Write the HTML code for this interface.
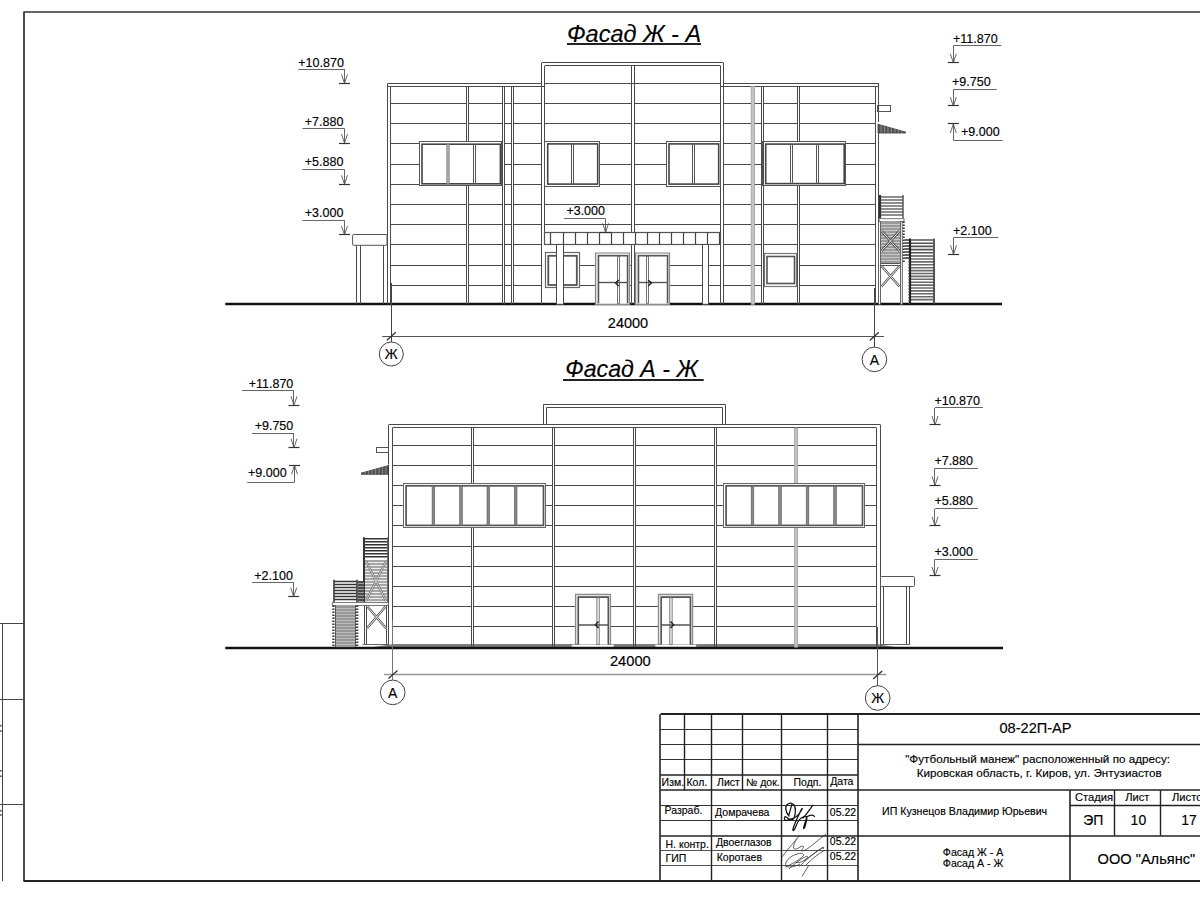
<!DOCTYPE html>
<html><head><meta charset="utf-8"><style>
html,body{margin:0;padding:0;background:#fff;width:1200px;height:900px;overflow:hidden}
svg{display:block}
text{font-family:"Liberation Sans",sans-serif;stroke:#000;stroke-width:0.15px}
</style></head><body>
<svg width="1200" height="900" viewBox="0 0 1200 900">
<rect x="0" y="0" width="1200" height="900" fill="#fff"/>
<line x1="225.3" y1="304" x2="1002" y2="304" stroke="#111" stroke-width="2.4"/>
<line x1="387.5" y1="83.5" x2="542" y2="83.5" stroke="#4a4a4a" stroke-width="1"/>
<line x1="545" y1="83.5" x2="720.5" y2="83.5" stroke="#4a4a4a" stroke-width="1"/>
<line x1="723.25" y1="83.5" x2="878.8" y2="83.5" stroke="#4a4a4a" stroke-width="1"/>
<line x1="387.5" y1="86.5" x2="545" y2="86.5" stroke="#4a4a4a" stroke-width="1"/>
<line x1="720.5" y1="86.5" x2="878.8" y2="86.5" stroke="#4a4a4a" stroke-width="1"/>
<line x1="542" y1="62.5" x2="723.25" y2="62.5" stroke="#4a4a4a" stroke-width="1"/>
<line x1="545" y1="65.5" x2="720.5" y2="65.5" stroke="#4a4a4a" stroke-width="1"/>
<line x1="541.5" y1="62.7" x2="541.5" y2="304.3" stroke="#4a4a4a" stroke-width="1"/>
<line x1="723.5" y1="62.7" x2="723.5" y2="304.3" stroke="#4a4a4a" stroke-width="1"/>
<line x1="544.5" y1="65.7" x2="544.5" y2="232.5" stroke="#4a4a4a" stroke-width="1"/>
<line x1="720.5" y1="65.7" x2="720.5" y2="304.3" stroke="#4a4a4a" stroke-width="1"/>
<line x1="387.5" y1="83.6" x2="387.5" y2="304.3" stroke="#4a4a4a" stroke-width="1"/>
<line x1="390.5" y1="86.5" x2="390.5" y2="304.3" stroke="#4a4a4a" stroke-width="1"/>
<line x1="878.5" y1="83.6" x2="878.5" y2="304.3" stroke="#4a4a4a" stroke-width="1"/>
<line x1="875.5" y1="86.5" x2="875.5" y2="304.3" stroke="#4a4a4a" stroke-width="1"/>
<line x1="466.5" y1="86.5" x2="466.5" y2="141.8" stroke="#4a4a4a" stroke-width="1"/>
<line x1="468.5" y1="86.5" x2="468.5" y2="141.8" stroke="#4a4a4a" stroke-width="1"/>
<line x1="466.5" y1="186" x2="466.5" y2="304.3" stroke="#4a4a4a" stroke-width="1"/>
<line x1="468.5" y1="186" x2="468.5" y2="304.3" stroke="#4a4a4a" stroke-width="1"/>
<line x1="502.5" y1="86.5" x2="502.5" y2="304.3" stroke="#4a4a4a" stroke-width="1"/>
<line x1="504.5" y1="86.5" x2="504.5" y2="304.3" stroke="#4a4a4a" stroke-width="1"/>
<line x1="511.5" y1="86.5" x2="511.5" y2="304.3" stroke="#4a4a4a" stroke-width="1"/>
<line x1="513.5" y1="86.5" x2="513.5" y2="304.3" stroke="#4a4a4a" stroke-width="1"/>
<line x1="631.5" y1="65.7" x2="631.5" y2="232.5" stroke="#4a4a4a" stroke-width="1"/>
<line x1="634.5" y1="65.7" x2="634.5" y2="232.5" stroke="#4a4a4a" stroke-width="1"/>
<line x1="631.5" y1="244.5" x2="631.5" y2="304.3" stroke="#4a4a4a" stroke-width="1"/>
<line x1="634.5" y1="244.5" x2="634.5" y2="304.3" stroke="#4a4a4a" stroke-width="1"/>
<rect x="751.2" y="86.5" width="3.4" height="217.8" fill="#c4c4c4" stroke="#a0a0a0" stroke-width="0.8"/>
<line x1="761.5" y1="86.5" x2="761.5" y2="304.3" stroke="#4a4a4a" stroke-width="1"/>
<line x1="763.5" y1="86.5" x2="763.5" y2="304.3" stroke="#4a4a4a" stroke-width="1"/>
<line x1="797.5" y1="86.5" x2="797.5" y2="141.7" stroke="#4a4a4a" stroke-width="1"/>
<line x1="799.5" y1="86.5" x2="799.5" y2="141.7" stroke="#4a4a4a" stroke-width="1"/>
<line x1="797.5" y1="185.8" x2="797.5" y2="304.3" stroke="#4a4a4a" stroke-width="1"/>
<line x1="799.5" y1="185.8" x2="799.5" y2="304.3" stroke="#4a4a4a" stroke-width="1"/>
<line x1="390.5" y1="103.5" x2="466.25" y2="103.5" stroke="#4a4a4a" stroke-width="1"/>
<line x1="468.25" y1="103.5" x2="503" y2="103.5" stroke="#4a4a4a" stroke-width="1"/>
<line x1="505" y1="103.5" x2="511.5" y2="103.5" stroke="#4a4a4a" stroke-width="1"/>
<line x1="513.5" y1="103.5" x2="542" y2="103.5" stroke="#4a4a4a" stroke-width="1"/>
<line x1="545" y1="103.5" x2="631.3" y2="103.5" stroke="#4a4a4a" stroke-width="1"/>
<line x1="634.3" y1="103.5" x2="720.5" y2="103.5" stroke="#4a4a4a" stroke-width="1"/>
<line x1="723.25" y1="103.5" x2="751" y2="103.5" stroke="#4a4a4a" stroke-width="1"/>
<line x1="754.8" y1="103.5" x2="761.25" y2="103.5" stroke="#4a4a4a" stroke-width="1"/>
<line x1="763.25" y1="103.5" x2="797.2" y2="103.5" stroke="#4a4a4a" stroke-width="1"/>
<line x1="799.5" y1="103.5" x2="875.3" y2="103.5" stroke="#4a4a4a" stroke-width="1"/>
<line x1="390.5" y1="123.5" x2="466.25" y2="123.5" stroke="#4a4a4a" stroke-width="1"/>
<line x1="468.25" y1="123.5" x2="503" y2="123.5" stroke="#4a4a4a" stroke-width="1"/>
<line x1="505" y1="123.5" x2="511.5" y2="123.5" stroke="#4a4a4a" stroke-width="1"/>
<line x1="513.5" y1="123.5" x2="542" y2="123.5" stroke="#4a4a4a" stroke-width="1"/>
<line x1="545" y1="123.5" x2="631.3" y2="123.5" stroke="#4a4a4a" stroke-width="1"/>
<line x1="634.3" y1="123.5" x2="720.5" y2="123.5" stroke="#4a4a4a" stroke-width="1"/>
<line x1="723.25" y1="123.5" x2="751" y2="123.5" stroke="#4a4a4a" stroke-width="1"/>
<line x1="754.8" y1="123.5" x2="761.25" y2="123.5" stroke="#4a4a4a" stroke-width="1"/>
<line x1="763.25" y1="123.5" x2="797.2" y2="123.5" stroke="#4a4a4a" stroke-width="1"/>
<line x1="799.5" y1="123.5" x2="875.3" y2="123.5" stroke="#4a4a4a" stroke-width="1"/>
<line x1="390.5" y1="143.5" x2="419.3" y2="143.5" stroke="#4a4a4a" stroke-width="1"/>
<line x1="502" y1="143.5" x2="503" y2="143.5" stroke="#4a4a4a" stroke-width="1"/>
<line x1="505" y1="143.5" x2="511.5" y2="143.5" stroke="#4a4a4a" stroke-width="1"/>
<line x1="513.5" y1="143.5" x2="542" y2="143.5" stroke="#4a4a4a" stroke-width="1"/>
<line x1="599.3" y1="143.5" x2="631.3" y2="143.5" stroke="#4a4a4a" stroke-width="1"/>
<line x1="634.3" y1="143.5" x2="666.3" y2="143.5" stroke="#4a4a4a" stroke-width="1"/>
<line x1="720.3" y1="143.5" x2="720.5" y2="143.5" stroke="#4a4a4a" stroke-width="1"/>
<line x1="723.25" y1="143.5" x2="751" y2="143.5" stroke="#4a4a4a" stroke-width="1"/>
<line x1="754.8" y1="143.5" x2="761.25" y2="143.5" stroke="#4a4a4a" stroke-width="1"/>
<line x1="845.8" y1="143.5" x2="875.3" y2="143.5" stroke="#4a4a4a" stroke-width="1"/>
<line x1="390.5" y1="164.5" x2="419.3" y2="164.5" stroke="#4a4a4a" stroke-width="1"/>
<line x1="502" y1="164.5" x2="503" y2="164.5" stroke="#4a4a4a" stroke-width="1"/>
<line x1="505" y1="164.5" x2="511.5" y2="164.5" stroke="#4a4a4a" stroke-width="1"/>
<line x1="513.5" y1="164.5" x2="542" y2="164.5" stroke="#4a4a4a" stroke-width="1"/>
<line x1="599.3" y1="164.5" x2="631.3" y2="164.5" stroke="#4a4a4a" stroke-width="1"/>
<line x1="634.3" y1="164.5" x2="666.3" y2="164.5" stroke="#4a4a4a" stroke-width="1"/>
<line x1="720.3" y1="164.5" x2="720.5" y2="164.5" stroke="#4a4a4a" stroke-width="1"/>
<line x1="723.25" y1="164.5" x2="751" y2="164.5" stroke="#4a4a4a" stroke-width="1"/>
<line x1="754.8" y1="164.5" x2="761.25" y2="164.5" stroke="#4a4a4a" stroke-width="1"/>
<line x1="845.8" y1="164.5" x2="875.3" y2="164.5" stroke="#4a4a4a" stroke-width="1"/>
<line x1="390.5" y1="184.5" x2="419.3" y2="184.5" stroke="#4a4a4a" stroke-width="1"/>
<line x1="502" y1="184.5" x2="503" y2="184.5" stroke="#4a4a4a" stroke-width="1"/>
<line x1="505" y1="184.5" x2="511.5" y2="184.5" stroke="#4a4a4a" stroke-width="1"/>
<line x1="513.5" y1="184.5" x2="542" y2="184.5" stroke="#4a4a4a" stroke-width="1"/>
<line x1="599.3" y1="184.5" x2="631.3" y2="184.5" stroke="#4a4a4a" stroke-width="1"/>
<line x1="634.3" y1="184.5" x2="666.3" y2="184.5" stroke="#4a4a4a" stroke-width="1"/>
<line x1="720.3" y1="184.5" x2="720.5" y2="184.5" stroke="#4a4a4a" stroke-width="1"/>
<line x1="723.25" y1="184.5" x2="751" y2="184.5" stroke="#4a4a4a" stroke-width="1"/>
<line x1="754.8" y1="184.5" x2="761.25" y2="184.5" stroke="#4a4a4a" stroke-width="1"/>
<line x1="845.8" y1="184.5" x2="875.3" y2="184.5" stroke="#4a4a4a" stroke-width="1"/>
<line x1="390.5" y1="204.5" x2="466.25" y2="204.5" stroke="#4a4a4a" stroke-width="1"/>
<line x1="468.25" y1="204.5" x2="503" y2="204.5" stroke="#4a4a4a" stroke-width="1"/>
<line x1="505" y1="204.5" x2="511.5" y2="204.5" stroke="#4a4a4a" stroke-width="1"/>
<line x1="513.5" y1="204.5" x2="542" y2="204.5" stroke="#4a4a4a" stroke-width="1"/>
<line x1="545" y1="204.5" x2="631.3" y2="204.5" stroke="#4a4a4a" stroke-width="1"/>
<line x1="634.3" y1="204.5" x2="720.5" y2="204.5" stroke="#4a4a4a" stroke-width="1"/>
<line x1="723.25" y1="204.5" x2="751" y2="204.5" stroke="#4a4a4a" stroke-width="1"/>
<line x1="754.8" y1="204.5" x2="761.25" y2="204.5" stroke="#4a4a4a" stroke-width="1"/>
<line x1="763.25" y1="204.5" x2="797.2" y2="204.5" stroke="#4a4a4a" stroke-width="1"/>
<line x1="799.5" y1="204.5" x2="875.3" y2="204.5" stroke="#4a4a4a" stroke-width="1"/>
<line x1="390.5" y1="224.5" x2="466.25" y2="224.5" stroke="#4a4a4a" stroke-width="1"/>
<line x1="468.25" y1="224.5" x2="503" y2="224.5" stroke="#4a4a4a" stroke-width="1"/>
<line x1="505" y1="224.5" x2="511.5" y2="224.5" stroke="#4a4a4a" stroke-width="1"/>
<line x1="513.5" y1="224.5" x2="542" y2="224.5" stroke="#4a4a4a" stroke-width="1"/>
<line x1="545" y1="224.5" x2="631.3" y2="224.5" stroke="#4a4a4a" stroke-width="1"/>
<line x1="634.3" y1="224.5" x2="720.5" y2="224.5" stroke="#4a4a4a" stroke-width="1"/>
<line x1="723.25" y1="224.5" x2="751" y2="224.5" stroke="#4a4a4a" stroke-width="1"/>
<line x1="754.8" y1="224.5" x2="761.25" y2="224.5" stroke="#4a4a4a" stroke-width="1"/>
<line x1="763.25" y1="224.5" x2="797.2" y2="224.5" stroke="#4a4a4a" stroke-width="1"/>
<line x1="799.5" y1="224.5" x2="875.3" y2="224.5" stroke="#4a4a4a" stroke-width="1"/>
<line x1="390.5" y1="244.5" x2="466.25" y2="244.5" stroke="#4a4a4a" stroke-width="1"/>
<line x1="468.25" y1="244.5" x2="503" y2="244.5" stroke="#4a4a4a" stroke-width="1"/>
<line x1="505" y1="244.5" x2="511.5" y2="244.5" stroke="#4a4a4a" stroke-width="1"/>
<line x1="513.5" y1="244.5" x2="542" y2="244.5" stroke="#4a4a4a" stroke-width="1"/>
<line x1="723.25" y1="244.5" x2="751" y2="244.5" stroke="#4a4a4a" stroke-width="1"/>
<line x1="754.8" y1="244.5" x2="761.25" y2="244.5" stroke="#4a4a4a" stroke-width="1"/>
<line x1="763.25" y1="244.5" x2="797.2" y2="244.5" stroke="#4a4a4a" stroke-width="1"/>
<line x1="799.5" y1="244.5" x2="875.3" y2="244.5" stroke="#4a4a4a" stroke-width="1"/>
<line x1="390.5" y1="265.5" x2="466.25" y2="265.5" stroke="#4a4a4a" stroke-width="1"/>
<line x1="468.25" y1="265.5" x2="503" y2="265.5" stroke="#4a4a4a" stroke-width="1"/>
<line x1="505" y1="265.5" x2="511.5" y2="265.5" stroke="#4a4a4a" stroke-width="1"/>
<line x1="513.5" y1="265.5" x2="542" y2="265.5" stroke="#4a4a4a" stroke-width="1"/>
<line x1="579.2" y1="265.5" x2="595.5" y2="265.5" stroke="#4a4a4a" stroke-width="1"/>
<line x1="629.5" y1="265.5" x2="631.3" y2="265.5" stroke="#4a4a4a" stroke-width="1"/>
<line x1="634.3" y1="265.5" x2="635.5" y2="265.5" stroke="#4a4a4a" stroke-width="1"/>
<line x1="669.5" y1="265.5" x2="702.5" y2="265.5" stroke="#4a4a4a" stroke-width="1"/>
<line x1="708.5" y1="265.5" x2="720.5" y2="265.5" stroke="#4a4a4a" stroke-width="1"/>
<line x1="723.25" y1="265.5" x2="751" y2="265.5" stroke="#4a4a4a" stroke-width="1"/>
<line x1="754.8" y1="265.5" x2="761.25" y2="265.5" stroke="#4a4a4a" stroke-width="1"/>
<line x1="763.25" y1="265.5" x2="764.25" y2="265.5" stroke="#4a4a4a" stroke-width="1"/>
<line x1="797" y1="265.5" x2="797.2" y2="265.5" stroke="#4a4a4a" stroke-width="1"/>
<line x1="799.5" y1="265.5" x2="875.3" y2="265.5" stroke="#4a4a4a" stroke-width="1"/>
<line x1="390.5" y1="285.5" x2="466.25" y2="285.5" stroke="#4a4a4a" stroke-width="1"/>
<line x1="468.25" y1="285.5" x2="503" y2="285.5" stroke="#4a4a4a" stroke-width="1"/>
<line x1="505" y1="285.5" x2="511.5" y2="285.5" stroke="#4a4a4a" stroke-width="1"/>
<line x1="513.5" y1="285.5" x2="542" y2="285.5" stroke="#4a4a4a" stroke-width="1"/>
<line x1="579.2" y1="285.5" x2="595.5" y2="285.5" stroke="#4a4a4a" stroke-width="1"/>
<line x1="629.5" y1="285.5" x2="631.3" y2="285.5" stroke="#4a4a4a" stroke-width="1"/>
<line x1="634.3" y1="285.5" x2="635.5" y2="285.5" stroke="#4a4a4a" stroke-width="1"/>
<line x1="669.5" y1="285.5" x2="702.5" y2="285.5" stroke="#4a4a4a" stroke-width="1"/>
<line x1="708.5" y1="285.5" x2="720.5" y2="285.5" stroke="#4a4a4a" stroke-width="1"/>
<line x1="723.25" y1="285.5" x2="751" y2="285.5" stroke="#4a4a4a" stroke-width="1"/>
<line x1="754.8" y1="285.5" x2="761.25" y2="285.5" stroke="#4a4a4a" stroke-width="1"/>
<line x1="763.25" y1="285.5" x2="764.25" y2="285.5" stroke="#4a4a4a" stroke-width="1"/>
<line x1="797" y1="285.5" x2="797.2" y2="285.5" stroke="#4a4a4a" stroke-width="1"/>
<line x1="799.5" y1="285.5" x2="875.3" y2="285.5" stroke="#4a4a4a" stroke-width="1"/>
<rect x="419.5" y="141.5" width="82.0" height="44.0" fill="none" stroke="#555" stroke-width="1.0"/>
<rect x="422.0" y="144.20000000000002" width="78.39999999999999" height="39.59999999999999" fill="none" stroke="#444" stroke-width="1.6"/>
<rect x="446.8" y="144.20000000000002" width="2.4" height="39.59999999999999" fill="#aaa" stroke="#777" stroke-width="0.6"/>
<line x1="473.5" y1="144.20000000000002" x2="473.5" y2="183.8" stroke="#555" stroke-width="1.0"/>
<line x1="475.5" y1="144.20000000000002" x2="475.5" y2="183.8" stroke="#555" stroke-width="1.0"/>
<rect x="544.5" y="141.5" width="55.0" height="45.0" fill="none" stroke="#555" stroke-width="1.0"/>
<rect x="547.7" y="143.9" width="49.99999999999996" height="40.20000000000001" fill="none" stroke="#444" stroke-width="1.6"/>
<line x1="571.5" y1="143.9" x2="571.5" y2="184.10000000000002" stroke="#555" stroke-width="1.0"/>
<line x1="573.5" y1="143.9" x2="573.5" y2="184.10000000000002" stroke="#555" stroke-width="1.0"/>
<rect x="666.5" y="141.5" width="54.0" height="45.0" fill="none" stroke="#555" stroke-width="1.0"/>
<rect x="669.0" y="143.9" width="49.7" height="40.20000000000001" fill="none" stroke="#444" stroke-width="1.6"/>
<line x1="692.5" y1="143.9" x2="692.5" y2="184.10000000000002" stroke="#555" stroke-width="1.0"/>
<line x1="694.5" y1="143.9" x2="694.5" y2="184.10000000000002" stroke="#555" stroke-width="1.0"/>
<rect x="762.5" y="141.5" width="83.0" height="44.0" fill="none" stroke="#555" stroke-width="1.0"/>
<rect x="765.7" y="144.1" width="78.49999999999996" height="39.50000000000002" fill="none" stroke="#444" stroke-width="1.6"/>
<line x1="790.5" y1="144.1" x2="790.5" y2="183.60000000000002" stroke="#555" stroke-width="1.0"/>
<line x1="792.5" y1="144.1" x2="792.5" y2="183.60000000000002" stroke="#555" stroke-width="1.0"/>
<line x1="816.5" y1="144.1" x2="816.5" y2="183.60000000000002" stroke="#555" stroke-width="1.0"/>
<line x1="818.5" y1="144.1" x2="818.5" y2="183.60000000000002" stroke="#555" stroke-width="1.0"/>
<rect x="544.5" y="232.5" width="176.0" height="12.0" fill="none" stroke="#555" stroke-width="1.2"/>
<line x1="550.5" y1="232.5" x2="550.5" y2="244.5" stroke="#444" stroke-width="1.2"/>
<line x1="563.5" y1="232.5" x2="563.5" y2="244.5" stroke="#444" stroke-width="1.2"/>
<line x1="575.5" y1="232.5" x2="575.5" y2="244.5" stroke="#444" stroke-width="1.2"/>
<line x1="587.5" y1="232.5" x2="587.5" y2="244.5" stroke="#444" stroke-width="1.2"/>
<line x1="599.5" y1="232.5" x2="599.5" y2="244.5" stroke="#444" stroke-width="1.2"/>
<line x1="611.5" y1="232.5" x2="611.5" y2="244.5" stroke="#444" stroke-width="1.2"/>
<line x1="623.5" y1="232.5" x2="623.5" y2="244.5" stroke="#444" stroke-width="1.2"/>
<line x1="635.5" y1="232.5" x2="635.5" y2="244.5" stroke="#444" stroke-width="1.2"/>
<line x1="647.5" y1="232.5" x2="647.5" y2="244.5" stroke="#444" stroke-width="1.2"/>
<line x1="659.5" y1="232.5" x2="659.5" y2="244.5" stroke="#444" stroke-width="1.2"/>
<line x1="671.5" y1="232.5" x2="671.5" y2="244.5" stroke="#444" stroke-width="1.2"/>
<line x1="683.5" y1="232.5" x2="683.5" y2="244.5" stroke="#444" stroke-width="1.2"/>
<line x1="695.5" y1="232.5" x2="695.5" y2="244.5" stroke="#444" stroke-width="1.2"/>
<line x1="707.5" y1="232.5" x2="707.5" y2="244.5" stroke="#444" stroke-width="1.2"/>
<line x1="719.5" y1="232.5" x2="719.5" y2="244.5" stroke="#444" stroke-width="1.2"/>
<rect x="545.5" y="252.5" width="34.0" height="35.0" fill="none" stroke="#666" stroke-width="1.2"/>
<rect x="548.3" y="255.8" width="28.5" height="29.2" fill="none" stroke="#555" stroke-width="1.8"/>
<rect x="556.5" y="244.5" width="7" height="59.80000000000001" fill="#fff" stroke="#4a4a4a" stroke-width="1"/>
<rect x="702.5" y="244.5" width="6" height="59.80000000000001" fill="#fff" stroke="#4a4a4a" stroke-width="1"/>
<path d="M595.5,304.3 V253 H629.5 V304.3 Z" fill="#e4e4e4" stroke="#8a8a8a" stroke-width="1.2"/>
<path d="M598.5,303.3 V255.8 H627.5 V303.3" fill="#fff" stroke="#555" stroke-width="1.5"/>
<rect x="617.5" y="256.4" width="2" height="46.90000000000001" fill="#fff" stroke="#666" stroke-width="0.9"/>
<line x1="599.0" y1="282.5" x2="627.0" y2="282.5" stroke="#555" stroke-width="1.4"/>
<path d="M635.5,304.3 V253 H669.5 V304.3 Z" fill="#e4e4e4" stroke="#8a8a8a" stroke-width="1.2"/>
<path d="M638.5,303.3 V255.8 H667.5 V303.3" fill="#fff" stroke="#555" stroke-width="1.5"/>
<rect x="646.5" y="256.4" width="2" height="46.90000000000001" fill="#fff" stroke="#666" stroke-width="0.9"/>
<line x1="639.0" y1="282.5" x2="667.0" y2="282.5" stroke="#555" stroke-width="1.4"/>
<polyline points="618.8,280 615.6,283 618.8,286" fill="none" stroke="#222" stroke-width="1.4"/>
<polyline points="648.2,280 651.4,283 648.2,286" fill="none" stroke="#222" stroke-width="1.4"/>
<rect x="764.5" y="253.5" width="32.0" height="33.0" fill="none" stroke="#777" stroke-width="1.2"/>
<rect x="767" y="256.5" width="27.5" height="27" fill="none" stroke="#555" stroke-width="1.6"/>
<rect x="352.6" y="234.5" width="34.4" height="10.8" rx="1" fill="#fff" stroke="#555" stroke-width="1"/>
<line x1="356.5" y1="245.3" x2="356.5" y2="304.3" stroke="#4a4a4a" stroke-width="1"/>
<line x1="360.5" y1="245.3" x2="360.5" y2="304.3" stroke="#4a4a4a" stroke-width="1"/>
<line x1="383.5" y1="245.3" x2="383.5" y2="304.3" stroke="#4a4a4a" stroke-width="1"/>
<line x1="387.5" y1="245.3" x2="387.5" y2="304.3" stroke="#4a4a4a" stroke-width="1"/>
<rect x="877.5" y="105.5" width="13.0" height="6.0" fill="none" stroke="#555" stroke-width="1"/>
<polygon points="878,123.7 905.5,131.5 905.5,133 878,133" fill="#555" stroke="#333" stroke-width="0.8"/>
<line x1="881" y1="123" x2="881" y2="133" stroke="#999" stroke-width="0.7"/>
<line x1="884.5" y1="123" x2="884.5" y2="133" stroke="#999" stroke-width="0.7"/>
<line x1="888" y1="123" x2="888" y2="133" stroke="#999" stroke-width="0.7"/>
<line x1="891.5" y1="123" x2="891.5" y2="133" stroke="#999" stroke-width="0.7"/>
<line x1="895" y1="123" x2="895" y2="133" stroke="#999" stroke-width="0.7"/>
<line x1="898.5" y1="123" x2="898.5" y2="133" stroke="#999" stroke-width="0.7"/>
<line x1="902" y1="123" x2="902" y2="133" stroke="#999" stroke-width="0.7"/>
<polygon points="878,123.7 905.5,131.5 906,131.5 906,122 878,122" fill="#fff"/>
<path d="M880.5,197.00H903M880.5,200.00H903M880.5,203.00H903M880.5,206.00H903M880.5,209.00H903M880.5,212.00H903M880.5,215.00H903" stroke="#6a6a6a" stroke-width="1.6" fill="none"/>
<line x1="880" y1="195" x2="880" y2="218.7" stroke="#333" stroke-width="2.2"/>
<line x1="903" y1="195" x2="903" y2="218.7" stroke="#555" stroke-width="1.5"/>
<rect x="879" y="218.7" width="25" height="2.8" fill="#fff" stroke="#666" stroke-width="0.9"/>
<rect x="880.7" y="221.5" width="19.6" height="41.2" fill="#c8c8c8"/>
<path d="M880.7,223.00H900.3M880.7,226.00H900.3M880.7,229.00H900.3M880.7,232.00H900.3M880.7,235.00H900.3M880.7,238.00H900.3M880.7,241.00H900.3M880.7,244.00H900.3M880.7,247.00H900.3M880.7,250.00H900.3M880.7,253.00H900.3M880.7,256.00H900.3M880.7,259.00H900.3M880.7,262.00H900.3" stroke="#8a8a8a" stroke-width="1.5" fill="none"/>
<rect x="878.5" y="221.5" width="2.0" height="82.80000000000001" fill="#fff" stroke="#555" stroke-width="0.9"/>
<rect x="900.5" y="221.5" width="1.7999999999999545" height="82.80000000000001" fill="#fff" stroke="#555" stroke-width="0.9"/>
<path d="M881.5,231 L899.5,251 M899.5,231 L881.5,251" stroke="#444" stroke-width="2.6" fill="none"/>
<path d="M881.5,231 L899.5,251 M899.5,231 L881.5,251" stroke="#f4f4f4" stroke-width="1" fill="none"/>
<line x1="880.7" y1="263.5" x2="900.3" y2="263.5" stroke="#555" stroke-width="1"/>
<line x1="880.7" y1="265.5" x2="900.3" y2="265.5" stroke="#555" stroke-width="1"/>
<path d="M881.5,266 L899.5,286.5 M899.5,266 L881.5,286.5" stroke="#555" stroke-width="2.4" fill="none"/>
<path d="M881.5,266 L899.5,286.5 M899.5,266 L881.5,286.5" stroke="#fff" stroke-width="0.9" fill="none"/>
<line x1="903.8" y1="221.5" x2="903.8" y2="262" stroke="#333" stroke-width="1.8" stroke-dasharray="1.6 1.4"/>
<path d="M904.5,240.00H909.5M904.5,243.00H909.5M904.5,246.00H909.5M904.5,249.00H909.5M904.5,252.00H909.5M904.5,255.00H909.5M904.5,258.00H909.5" stroke="#333" stroke-width="1.5" fill="none"/>
<path d="M910.5,240.00H933M910.5,243.20H933M910.5,246.40H933M910.5,249.60H933M910.5,252.80H933M910.5,256.00H933" stroke="#555" stroke-width="1.6" fill="none"/>
<path d="M910.5,259.00H933M910.5,261.90H933M910.5,264.80H933M910.5,267.70H933M910.5,270.60H933M910.5,273.50H933M910.5,276.40H933M910.5,279.30H933M910.5,282.20H933M910.5,285.10H933M910.5,288.00H933M910.5,290.90H933M910.5,293.80H933M910.5,296.70H933M910.5,299.60H933" stroke="#6a6a6a" stroke-width="1.6" fill="none"/>
<line x1="910" y1="238.5" x2="910" y2="304.3" stroke="#222" stroke-width="2.2"/>
<line x1="934" y1="238.5" x2="934" y2="304.3" stroke="#333" stroke-width="1.6"/>
<line x1="934.3" y1="258" x2="934.3" y2="304.3" stroke="#444" stroke-width="1.4" stroke-dasharray="1.6 1.4"/>
<line x1="909.2" y1="258" x2="909.2" y2="304.3" stroke="#444" stroke-width="1.4" stroke-dasharray="1.6 1.4"/>
<line x1="382.2" y1="336.5" x2="884" y2="336.5" stroke="#555" stroke-width="1"/>
<line x1="391.5" y1="283" x2="391.5" y2="342" stroke="#444" stroke-width="1"/>
<line x1="874.5" y1="288" x2="874.5" y2="347" stroke="#444" stroke-width="1"/>
<line x1="386.8" y1="340.3" x2="395.8" y2="332.2" stroke="#333" stroke-width="1.3"/>
<line x1="869.8" y1="340.5" x2="878.8" y2="332.3" stroke="#333" stroke-width="1.3"/>
<text x="628" y="327.9" font-size="14.5" text-anchor="middle"  fill="#000">24000</text>
<circle cx="391.3" cy="354" r="12" fill="none" stroke="#444" stroke-width="1"/>
<text x="391.3" y="359.3" font-size="14" text-anchor="middle"  fill="#000">Ж</text>
<circle cx="874.4" cy="359.4" r="12.3" fill="none" stroke="#444" stroke-width="1"/>
<text x="874.4" y="364.7" font-size="14" text-anchor="middle"  fill="#000">А</text>
<text x="634" y="41.5" font-size="23.5" text-anchor="middle" font-style="italic" fill="#000">Фасад Ж - А</text>
<line x1="567" y1="44" x2="701" y2="44" stroke="#222" stroke-width="2.2"/>
<line x1="298.3" y1="69.5" x2="344.5" y2="69.5" stroke="#555" stroke-width="0.9"/>
<line x1="344.5" y1="69.1" x2="344.5" y2="83.3" stroke="#555" stroke-width="0.9"/>
<polyline points="341.5,74.3 344.5,83.3 347.5,74.3" fill="none" stroke="#555" stroke-width="0.9"/>
<line x1="339.0" y1="83.5" x2="350.0" y2="83.5" stroke="#333" stroke-width="1.2"/>
<text x="298.3" y="66.7" font-size="12.5" text-anchor="start"  fill="#000">+10.870</text>
<line x1="302.5" y1="128.5" x2="344.5" y2="128.5" stroke="#555" stroke-width="0.9"/>
<line x1="344.5" y1="128.6" x2="344.5" y2="143.1" stroke="#555" stroke-width="0.9"/>
<polyline points="341.5,134.1 344.5,143.1 347.5,134.1" fill="none" stroke="#555" stroke-width="0.9"/>
<line x1="339.0" y1="143.5" x2="350.0" y2="143.5" stroke="#333" stroke-width="1.2"/>
<text x="304.8" y="126" font-size="12.5" text-anchor="start"  fill="#000">+7.880</text>
<line x1="302.5" y1="169.5" x2="344.5" y2="169.5" stroke="#555" stroke-width="0.9"/>
<line x1="344.5" y1="169.5" x2="344.5" y2="184.3" stroke="#555" stroke-width="0.9"/>
<polyline points="341.5,175.3 344.5,184.3 347.5,175.3" fill="none" stroke="#555" stroke-width="0.9"/>
<line x1="339.0" y1="184.5" x2="350.0" y2="184.5" stroke="#333" stroke-width="1.2"/>
<text x="304.8" y="166.4" font-size="12.5" text-anchor="start"  fill="#000">+5.880</text>
<line x1="302.5" y1="220.5" x2="344.5" y2="220.5" stroke="#555" stroke-width="0.9"/>
<line x1="344.5" y1="220.4" x2="344.5" y2="234.9" stroke="#555" stroke-width="0.9"/>
<polyline points="341.5,225.9 344.5,234.9 347.5,225.9" fill="none" stroke="#555" stroke-width="0.9"/>
<line x1="339.0" y1="234.5" x2="350.0" y2="234.5" stroke="#333" stroke-width="1.2"/>
<text x="304.8" y="217.3" font-size="12.5" text-anchor="start"  fill="#000">+3.000</text>
<line x1="953.3" y1="45.5" x2="1001.3" y2="45.5" stroke="#555" stroke-width="0.9"/>
<line x1="953.5" y1="46" x2="953.5" y2="62.7" stroke="#555" stroke-width="0.9"/>
<polyline points="950.3,53.7 953.3,62.7 956.3,53.7" fill="none" stroke="#555" stroke-width="0.9"/>
<line x1="947.8" y1="62.5" x2="958.8" y2="62.5" stroke="#333" stroke-width="1.2"/>
<text x="953" y="43" font-size="12.5" text-anchor="start"  fill="#000">+11.870</text>
<line x1="953.3" y1="89.5" x2="996.7" y2="89.5" stroke="#555" stroke-width="0.9"/>
<line x1="953.5" y1="89.4" x2="953.5" y2="106" stroke="#555" stroke-width="0.9"/>
<polyline points="950.3,97 953.3,106 956.3,97" fill="none" stroke="#555" stroke-width="0.9"/>
<line x1="947.8" y1="105.5" x2="958.8" y2="105.5" stroke="#333" stroke-width="1.2"/>
<text x="952" y="85.7" font-size="12.5" text-anchor="start"  fill="#000">+9.750</text>
<line x1="953.3" y1="140.5" x2="1002.7" y2="140.5" stroke="#555" stroke-width="0.9"/>
<line x1="953.5" y1="140.3" x2="953.5" y2="124" stroke="#555" stroke-width="0.9"/>
<polyline points="950.3,133 953.3,124 956.3,133" fill="none" stroke="#555" stroke-width="0.9"/>
<line x1="947.8" y1="123.5" x2="958.8" y2="123.5" stroke="#333" stroke-width="1.2"/>
<text x="961" y="136.3" font-size="12.5" text-anchor="start"  fill="#000">+9.000</text>
<line x1="953.5" y1="237.5" x2="998.5" y2="237.5" stroke="#555" stroke-width="0.9"/>
<line x1="953.5" y1="237.5" x2="953.5" y2="254.3" stroke="#555" stroke-width="0.9"/>
<polyline points="950.5,245.3 953.5,254.3 956.5,245.3" fill="none" stroke="#555" stroke-width="0.9"/>
<line x1="948.0" y1="254.5" x2="959.0" y2="254.5" stroke="#333" stroke-width="1.2"/>
<text x="953" y="234.5" font-size="12.5" text-anchor="start"  fill="#000">+2.100</text>
<line x1="564" y1="218.5" x2="605.6" y2="218.5" stroke="#555" stroke-width="0.9"/>
<line x1="605.5" y1="218.5" x2="605.5" y2="232.3" stroke="#555" stroke-width="0.9"/>
<polyline points="602.6,223.3 605.6,232.3 608.6,223.3" fill="none" stroke="#555" stroke-width="0.9"/>
<line x1="600.1" y1="232.5" x2="611.1" y2="232.5" stroke="#333" stroke-width="1.2"/>
<text x="566.4" y="215.4" font-size="12.5" text-anchor="start"  fill="#000">+3.000</text>
<polygon points="373,647 393,644 877.5,644 895,647" fill="#808080"/>
<rect x="571.8" y="644.4" width="42.2" height="3" fill="#fff" stroke="#888" stroke-width="0.6"/>
<rect x="655" y="644.4" width="41.3" height="3" fill="#fff" stroke="#888" stroke-width="0.6"/>
<line x1="225.3" y1="648" x2="1003" y2="648" stroke="#111" stroke-width="2.4"/>
<line x1="388.5" y1="424.5" x2="880.5" y2="424.5" stroke="#4a4a4a" stroke-width="1"/>
<line x1="392.5" y1="427.5" x2="876.5" y2="427.5" stroke="#4a4a4a" stroke-width="1"/>
<line x1="543.5" y1="404.5" x2="725.5" y2="404.5" stroke="#4a4a4a" stroke-width="1"/>
<line x1="546.5" y1="407.5" x2="722.5" y2="407.5" stroke="#4a4a4a" stroke-width="1"/>
<line x1="543.5" y1="404.5" x2="543.5" y2="425" stroke="#4a4a4a" stroke-width="1"/>
<line x1="725.5" y1="404.5" x2="725.5" y2="425" stroke="#4a4a4a" stroke-width="1"/>
<line x1="546.5" y1="407.5" x2="546.5" y2="425" stroke="#4a4a4a" stroke-width="1"/>
<line x1="722.5" y1="407.5" x2="722.5" y2="425" stroke="#4a4a4a" stroke-width="1"/>
<line x1="388.5" y1="425" x2="388.5" y2="647.1" stroke="#4a4a4a" stroke-width="1"/>
<line x1="392.5" y1="428" x2="392.5" y2="647.1" stroke="#4a4a4a" stroke-width="1"/>
<line x1="880.5" y1="425" x2="880.5" y2="647.1" stroke="#4a4a4a" stroke-width="1"/>
<line x1="876.5" y1="428" x2="876.5" y2="647.1" stroke="#4a4a4a" stroke-width="1"/>
<rect x="794.5" y="428" width="3.2" height="219.10000000000002" fill="#c4c4c4" stroke="#a0a0a0" stroke-width="0.8"/>
<line x1="471.5" y1="428" x2="471.5" y2="483.7" stroke="#4a4a4a" stroke-width="1"/>
<line x1="473.5" y1="428" x2="473.5" y2="483.7" stroke="#4a4a4a" stroke-width="1"/>
<line x1="471.5" y1="527.3" x2="471.5" y2="647.1" stroke="#4a4a4a" stroke-width="1"/>
<line x1="473.5" y1="527.3" x2="473.5" y2="647.1" stroke="#4a4a4a" stroke-width="1"/>
<line x1="552.5" y1="428" x2="552.5" y2="647.1" stroke="#4a4a4a" stroke-width="1"/>
<line x1="554.5" y1="428" x2="554.5" y2="647.1" stroke="#4a4a4a" stroke-width="1"/>
<line x1="633.5" y1="428" x2="633.5" y2="647.1" stroke="#4a4a4a" stroke-width="1"/>
<line x1="635.5" y1="428" x2="635.5" y2="647.1" stroke="#4a4a4a" stroke-width="1"/>
<line x1="714.5" y1="428" x2="714.5" y2="647.1" stroke="#4a4a4a" stroke-width="1"/>
<line x1="716.5" y1="428" x2="716.5" y2="647.1" stroke="#4a4a4a" stroke-width="1"/>
<line x1="392.5" y1="445.5" x2="471.8" y2="445.5" stroke="#4a4a4a" stroke-width="1"/>
<line x1="474" y1="445.5" x2="552.8" y2="445.5" stroke="#4a4a4a" stroke-width="1"/>
<line x1="554.5" y1="445.5" x2="633.8" y2="445.5" stroke="#4a4a4a" stroke-width="1"/>
<line x1="635.8" y1="445.5" x2="714.8" y2="445.5" stroke="#4a4a4a" stroke-width="1"/>
<line x1="716.5" y1="445.5" x2="794.3" y2="445.5" stroke="#4a4a4a" stroke-width="1"/>
<line x1="797.8" y1="445.5" x2="876.5" y2="445.5" stroke="#4a4a4a" stroke-width="1"/>
<line x1="392.5" y1="465.5" x2="471.8" y2="465.5" stroke="#4a4a4a" stroke-width="1"/>
<line x1="474" y1="465.5" x2="552.8" y2="465.5" stroke="#4a4a4a" stroke-width="1"/>
<line x1="554.5" y1="465.5" x2="633.8" y2="465.5" stroke="#4a4a4a" stroke-width="1"/>
<line x1="635.8" y1="465.5" x2="714.8" y2="465.5" stroke="#4a4a4a" stroke-width="1"/>
<line x1="716.5" y1="465.5" x2="794.3" y2="465.5" stroke="#4a4a4a" stroke-width="1"/>
<line x1="797.8" y1="465.5" x2="876.5" y2="465.5" stroke="#4a4a4a" stroke-width="1"/>
<line x1="392.5" y1="485.5" x2="404" y2="485.5" stroke="#4a4a4a" stroke-width="1"/>
<line x1="545.7" y1="485.5" x2="552.8" y2="485.5" stroke="#4a4a4a" stroke-width="1"/>
<line x1="554.5" y1="485.5" x2="633.8" y2="485.5" stroke="#4a4a4a" stroke-width="1"/>
<line x1="635.8" y1="485.5" x2="714.8" y2="485.5" stroke="#4a4a4a" stroke-width="1"/>
<line x1="716.5" y1="485.5" x2="723.25" y2="485.5" stroke="#4a4a4a" stroke-width="1"/>
<line x1="864.5" y1="485.5" x2="876.5" y2="485.5" stroke="#4a4a4a" stroke-width="1"/>
<line x1="392.5" y1="505.5" x2="404" y2="505.5" stroke="#4a4a4a" stroke-width="1"/>
<line x1="545.7" y1="505.5" x2="552.8" y2="505.5" stroke="#4a4a4a" stroke-width="1"/>
<line x1="554.5" y1="505.5" x2="633.8" y2="505.5" stroke="#4a4a4a" stroke-width="1"/>
<line x1="635.8" y1="505.5" x2="714.8" y2="505.5" stroke="#4a4a4a" stroke-width="1"/>
<line x1="716.5" y1="505.5" x2="723.25" y2="505.5" stroke="#4a4a4a" stroke-width="1"/>
<line x1="864.5" y1="505.5" x2="876.5" y2="505.5" stroke="#4a4a4a" stroke-width="1"/>
<line x1="392.5" y1="525.5" x2="404" y2="525.5" stroke="#4a4a4a" stroke-width="1"/>
<line x1="545.7" y1="525.5" x2="552.8" y2="525.5" stroke="#4a4a4a" stroke-width="1"/>
<line x1="554.5" y1="525.5" x2="633.8" y2="525.5" stroke="#4a4a4a" stroke-width="1"/>
<line x1="635.8" y1="525.5" x2="714.8" y2="525.5" stroke="#4a4a4a" stroke-width="1"/>
<line x1="716.5" y1="525.5" x2="723.25" y2="525.5" stroke="#4a4a4a" stroke-width="1"/>
<line x1="864.5" y1="525.5" x2="876.5" y2="525.5" stroke="#4a4a4a" stroke-width="1"/>
<line x1="392.5" y1="546.5" x2="471.8" y2="546.5" stroke="#4a4a4a" stroke-width="1"/>
<line x1="474" y1="546.5" x2="552.8" y2="546.5" stroke="#4a4a4a" stroke-width="1"/>
<line x1="554.5" y1="546.5" x2="633.8" y2="546.5" stroke="#4a4a4a" stroke-width="1"/>
<line x1="635.8" y1="546.5" x2="714.8" y2="546.5" stroke="#4a4a4a" stroke-width="1"/>
<line x1="716.5" y1="546.5" x2="794.3" y2="546.5" stroke="#4a4a4a" stroke-width="1"/>
<line x1="797.8" y1="546.5" x2="876.5" y2="546.5" stroke="#4a4a4a" stroke-width="1"/>
<line x1="392.5" y1="566.5" x2="471.8" y2="566.5" stroke="#4a4a4a" stroke-width="1"/>
<line x1="474" y1="566.5" x2="552.8" y2="566.5" stroke="#4a4a4a" stroke-width="1"/>
<line x1="554.5" y1="566.5" x2="633.8" y2="566.5" stroke="#4a4a4a" stroke-width="1"/>
<line x1="635.8" y1="566.5" x2="714.8" y2="566.5" stroke="#4a4a4a" stroke-width="1"/>
<line x1="716.5" y1="566.5" x2="794.3" y2="566.5" stroke="#4a4a4a" stroke-width="1"/>
<line x1="797.8" y1="566.5" x2="876.5" y2="566.5" stroke="#4a4a4a" stroke-width="1"/>
<line x1="392.5" y1="586.5" x2="471.8" y2="586.5" stroke="#4a4a4a" stroke-width="1"/>
<line x1="474" y1="586.5" x2="552.8" y2="586.5" stroke="#4a4a4a" stroke-width="1"/>
<line x1="554.5" y1="586.5" x2="633.8" y2="586.5" stroke="#4a4a4a" stroke-width="1"/>
<line x1="635.8" y1="586.5" x2="714.8" y2="586.5" stroke="#4a4a4a" stroke-width="1"/>
<line x1="716.5" y1="586.5" x2="794.3" y2="586.5" stroke="#4a4a4a" stroke-width="1"/>
<line x1="797.8" y1="586.5" x2="876.5" y2="586.5" stroke="#4a4a4a" stroke-width="1"/>
<line x1="392.5" y1="606.5" x2="471.8" y2="606.5" stroke="#4a4a4a" stroke-width="1"/>
<line x1="474" y1="606.5" x2="552.8" y2="606.5" stroke="#4a4a4a" stroke-width="1"/>
<line x1="554.5" y1="606.5" x2="575.5" y2="606.5" stroke="#4a4a4a" stroke-width="1"/>
<line x1="610.5" y1="606.5" x2="633.8" y2="606.5" stroke="#4a4a4a" stroke-width="1"/>
<line x1="635.8" y1="606.5" x2="658.4" y2="606.5" stroke="#4a4a4a" stroke-width="1"/>
<line x1="692.6" y1="606.5" x2="714.8" y2="606.5" stroke="#4a4a4a" stroke-width="1"/>
<line x1="716.5" y1="606.5" x2="794.3" y2="606.5" stroke="#4a4a4a" stroke-width="1"/>
<line x1="797.8" y1="606.5" x2="876.5" y2="606.5" stroke="#4a4a4a" stroke-width="1"/>
<line x1="392.5" y1="626.5" x2="471.8" y2="626.5" stroke="#4a4a4a" stroke-width="1"/>
<line x1="474" y1="626.5" x2="552.8" y2="626.5" stroke="#4a4a4a" stroke-width="1"/>
<line x1="554.5" y1="626.5" x2="575.5" y2="626.5" stroke="#4a4a4a" stroke-width="1"/>
<line x1="610.5" y1="626.5" x2="633.8" y2="626.5" stroke="#4a4a4a" stroke-width="1"/>
<line x1="635.8" y1="626.5" x2="658.4" y2="626.5" stroke="#4a4a4a" stroke-width="1"/>
<line x1="692.6" y1="626.5" x2="714.8" y2="626.5" stroke="#4a4a4a" stroke-width="1"/>
<line x1="716.5" y1="626.5" x2="794.3" y2="626.5" stroke="#4a4a4a" stroke-width="1"/>
<line x1="797.8" y1="626.5" x2="876.5" y2="626.5" stroke="#4a4a4a" stroke-width="1"/>
<rect x="403.5" y="483.5" width="142.0" height="44.0" fill="#fff" stroke="#666" stroke-width="1"/>
<rect x="406.1" y="485.8" width="137.4" height="39.6" fill="none" stroke="#555" stroke-width="1.7"/>
<rect x="432.09999999999997" y="485.8" width="2.6" height="39.6" fill="#888" stroke="#555" stroke-width="0.6"/>
<rect x="459.7" y="485.8" width="2.6" height="39.6" fill="#888" stroke="#555" stroke-width="0.6"/>
<rect x="487.0" y="485.8" width="2.6" height="39.6" fill="#888" stroke="#555" stroke-width="0.6"/>
<rect x="514.4000000000001" y="485.8" width="2.6" height="39.6" fill="#888" stroke="#555" stroke-width="0.6"/>
<rect x="723.5" y="483.5" width="141.0" height="44.0" fill="#fff" stroke="#666" stroke-width="1"/>
<rect x="726.1" y="485.8" width="136.4" height="39.6" fill="none" stroke="#555" stroke-width="1.7"/>
<rect x="751.2" y="485.8" width="2.6" height="39.6" fill="#888" stroke="#555" stroke-width="0.6"/>
<rect x="778.7" y="485.8" width="2.6" height="39.6" fill="#888" stroke="#555" stroke-width="0.6"/>
<rect x="806.2" y="485.8" width="2.6" height="39.6" fill="#888" stroke="#555" stroke-width="0.6"/>
<rect x="833.7" y="485.8" width="2.6" height="39.6" fill="#888" stroke="#555" stroke-width="0.6"/>
<path d="M575.5,644.4 V594.3 H610.5 V644.4 Z" fill="#e4e4e4" stroke="#8a8a8a" stroke-width="1.2"/>
<path d="M578.3,644.4 V597.0999999999999 H608.3 V644.4" fill="#fff" stroke="#555" stroke-width="1.6"/>
<rect x="596.9" y="597.6999999999999" width="2.3" height="46.700000000000024" fill="#fff" stroke="#666" stroke-width="0.9"/>
<line x1="578.5" y1="625" x2="608.0" y2="625" stroke="#555" stroke-width="1.5"/>
<polyline points="598.6,621.6 595.3,624.8 598.6,628" fill="none" stroke="#222" stroke-width="1.4"/>
<path d="M658.4,644.4 V594.3 H692.6 V644.4 Z" fill="#e4e4e4" stroke="#8a8a8a" stroke-width="1.2"/>
<path d="M661.1999999999999,644.4 V597.0999999999999 H690.4 V644.4" fill="#fff" stroke="#555" stroke-width="1.6"/>
<rect x="669.8" y="597.6999999999999" width="2.3" height="46.700000000000024" fill="#fff" stroke="#666" stroke-width="0.9"/>
<line x1="661.4" y1="625" x2="690.1" y2="625" stroke="#555" stroke-width="1.5"/>
<polyline points="670.4,621.6 673.7,624.8 670.4,628" fill="none" stroke="#222" stroke-width="1.4"/>
<rect x="376.5" y="447.5" width="12.0" height="5.0" fill="none" stroke="#555" stroke-width="1"/>
<polygon points="361.5,472.5 388.5,465 388.5,474.3 361.5,474.3" fill="#555" stroke="#333" stroke-width="0.8"/>
<line x1="365" y1="465" x2="365" y2="474.3" stroke="#999" stroke-width="0.7"/>
<line x1="368.5" y1="465" x2="368.5" y2="474.3" stroke="#999" stroke-width="0.7"/>
<line x1="372" y1="465" x2="372" y2="474.3" stroke="#999" stroke-width="0.7"/>
<line x1="375.5" y1="465" x2="375.5" y2="474.3" stroke="#999" stroke-width="0.7"/>
<line x1="379" y1="465" x2="379" y2="474.3" stroke="#999" stroke-width="0.7"/>
<line x1="382.5" y1="465" x2="382.5" y2="474.3" stroke="#999" stroke-width="0.7"/>
<line x1="386" y1="465" x2="386" y2="474.3" stroke="#999" stroke-width="0.7"/>
<polygon points="361.5,472.5 388.5,465 388.5,464 360,464 360,472.5" fill="#fff"/>
<rect x="880.5" y="576.5" width="34" height="10" rx="1" fill="#fff" stroke="#555" stroke-width="1"/>
<line x1="883.5" y1="586.5" x2="883.5" y2="644.5" stroke="#4a4a4a" stroke-width="1"/>
<line x1="906.5" y1="586.5" x2="906.5" y2="644.5" stroke="#4a4a4a" stroke-width="1"/>
<line x1="909.5" y1="586.5" x2="909.5" y2="644.5" stroke="#4a4a4a" stroke-width="1"/>
<line x1="880.5" y1="644.5" x2="910" y2="644.5" stroke="#666" stroke-width="1"/>
<path d="M364.5,538.70H387.5M364.5,541.70H387.5M364.5,544.70H387.5M364.5,547.70H387.5M364.5,550.70H387.5M364.5,553.70H387.5M364.5,556.70H387.5" stroke="#333" stroke-width="1.4" fill="none"/>
<rect x="364.5" y="560" width="23" height="42.5" fill="#ececec"/>
<path d="M364.5,561.00H387.5M364.5,564.00H387.5M364.5,567.00H387.5M364.5,570.00H387.5M364.5,573.00H387.5M364.5,576.00H387.5M364.5,579.00H387.5M364.5,582.00H387.5M364.5,585.00H387.5M364.5,588.00H387.5M364.5,591.00H387.5M364.5,594.00H387.5M364.5,597.00H387.5M364.5,600.00H387.5" stroke="#909090" stroke-width="1.3" fill="none"/>
<path d="M366,561 L386,601 M386,561 L366,601" stroke="#666" stroke-width="2.2" fill="none"/>
<path d="M366,561 L386,601 M386,561 L366,601" stroke="#eee" stroke-width="0.9" fill="none"/>
<line x1="364" y1="537.2" x2="364" y2="602.6" stroke="#333" stroke-width="2"/>
<line x1="388" y1="537.2" x2="388" y2="602.6" stroke="#444" stroke-width="1.5"/>
<path d="M334.5,581.50H356.5M334.5,584.50H356.5M334.5,587.50H356.5M334.5,590.50H356.5M334.5,593.50H356.5M334.5,596.50H356.5M334.5,599.50H356.5" stroke="#333" stroke-width="1.4" fill="none"/>
<line x1="334" y1="579.8" x2="334" y2="602.6" stroke="#333" stroke-width="1.6"/>
<line x1="357" y1="579.8" x2="357" y2="602.6" stroke="#333" stroke-width="1.6"/>
<rect x="358" y="581" width="6" height="21" fill="#999"/>
<path d="M358,582.00H364M358,585.00H364M358,588.00H364M358,591.00H364M358,594.00H364M358,597.00H364M358,600.00H364" stroke="#333" stroke-width="1.3" fill="none"/>
<rect x="332.3" y="602.6" width="56" height="2.8" fill="#fff" stroke="#666" stroke-width="0.9"/>
<rect x="335.8" y="605.4" width="19.4" height="41.700000000000045" fill="#bdbdbd"/>
<path d="M335.8,607.00H355.2M335.8,610.00H355.2M335.8,613.00H355.2M335.8,616.00H355.2M335.8,619.00H355.2M335.8,622.00H355.2M335.8,625.00H355.2M335.8,628.00H355.2M335.8,631.00H355.2M335.8,634.00H355.2M335.8,637.00H355.2M335.8,640.00H355.2M335.8,643.00H355.2M335.8,646.00H355.2" stroke="#8a8a8a" stroke-width="1.5" fill="none"/>
<line x1="335.5" y1="605.4" x2="335.5" y2="647.1" stroke="#555" stroke-width="1"/>
<line x1="355.5" y1="605.4" x2="355.5" y2="647.1" stroke="#555" stroke-width="1"/>
<line x1="333.4" y1="605.4" x2="333.4" y2="647.1" stroke="#333" stroke-width="2.2" stroke-dasharray="1.6 1.4"/>
<line x1="357.2" y1="605.4" x2="357.2" y2="647.1" stroke="#333" stroke-width="2.2" stroke-dasharray="1.6 1.4"/>
<line x1="364.5" y1="605.4" x2="364.5" y2="644.3" stroke="#4a4a4a" stroke-width="1"/>
<line x1="366.5" y1="605.4" x2="366.5" y2="644.3" stroke="#4a4a4a" stroke-width="1"/>
<line x1="386.5" y1="605.4" x2="386.5" y2="644.3" stroke="#4a4a4a" stroke-width="1"/>
<line x1="388.5" y1="605.4" x2="388.5" y2="644.3" stroke="#4a4a4a" stroke-width="1"/>
<path d="M367,606 L386,628.3 M386,606 L367,628.3" stroke="#555" stroke-width="2.4" fill="none"/>
<path d="M367,606 L386,628.3 M386,606 L367,628.3" stroke="#fff" stroke-width="0.9" fill="none"/>
<line x1="362.5" y1="644.5" x2="388.5" y2="644.5" stroke="#666" stroke-width="1"/>
<line x1="384.1" y1="674.5" x2="886.3" y2="674.5" stroke="#999" stroke-width="1.3"/>
<line x1="392.5" y1="620" x2="392.5" y2="680" stroke="#777" stroke-width="1"/>
<line x1="877.5" y1="627" x2="877.5" y2="686" stroke="#555" stroke-width="1"/>
<line x1="388.5" y1="678.5" x2="397.5" y2="670.5" stroke="#333" stroke-width="1.3"/>
<line x1="873.2" y1="679" x2="882.2" y2="671" stroke="#333" stroke-width="1.3"/>
<text x="630.3" y="665.6" font-size="14.7" text-anchor="middle"  fill="#000">24000</text>
<circle cx="392.7" cy="692.4" r="12.3" fill="none" stroke="#444" stroke-width="1"/>
<text x="392.7" y="697.7" font-size="14" text-anchor="middle"  fill="#000">А</text>
<circle cx="877.7" cy="698" r="12.3" fill="none" stroke="#444" stroke-width="1"/>
<text x="877.7" y="703.3" font-size="14" text-anchor="middle"  fill="#000">Ж</text>
<text x="631.5" y="376.6" font-size="23.2" text-anchor="middle" font-style="italic" fill="#000">Фасад А - Ж</text>
<line x1="563" y1="380" x2="703.7" y2="380" stroke="#222" stroke-width="2.2"/>
<line x1="242" y1="390.5" x2="294" y2="390.5" stroke="#555" stroke-width="0.9"/>
<line x1="293.5" y1="390.4" x2="293.5" y2="405.3" stroke="#555" stroke-width="0.9"/>
<polyline points="291,396.3 294,405.3 297,396.3" fill="none" stroke="#555" stroke-width="0.9"/>
<line x1="288.5" y1="405.5" x2="299.5" y2="405.5" stroke="#333" stroke-width="1.2"/>
<text x="248.7" y="387.6" font-size="12.5" text-anchor="start"  fill="#000">+11.870</text>
<line x1="252" y1="433.5" x2="294" y2="433.5" stroke="#555" stroke-width="0.9"/>
<line x1="293.5" y1="433.3" x2="293.5" y2="447.7" stroke="#555" stroke-width="0.9"/>
<polyline points="291,438.7 294,447.7 297,438.7" fill="none" stroke="#555" stroke-width="0.9"/>
<line x1="288.5" y1="447.5" x2="299.5" y2="447.5" stroke="#333" stroke-width="1.2"/>
<text x="254.7" y="430" font-size="12.5" text-anchor="start"  fill="#000">+9.750</text>
<line x1="247.3" y1="482.5" x2="294.5" y2="482.5" stroke="#555" stroke-width="0.9"/>
<line x1="294.5" y1="482.4" x2="294.5" y2="465.3" stroke="#555" stroke-width="0.9"/>
<polyline points="291.5,474.3 294.5,465.3 297.5,474.3" fill="none" stroke="#555" stroke-width="0.9"/>
<line x1="289.0" y1="465.5" x2="300.0" y2="465.5" stroke="#333" stroke-width="1.2"/>
<text x="248" y="477.3" font-size="12.5" text-anchor="start"  fill="#000">+9.000</text>
<line x1="252" y1="582.5" x2="293.7" y2="582.5" stroke="#555" stroke-width="0.9"/>
<line x1="293.5" y1="582.5" x2="293.5" y2="596.7" stroke="#555" stroke-width="0.9"/>
<polyline points="290.7,587.7 293.7,596.7 296.7,587.7" fill="none" stroke="#555" stroke-width="0.9"/>
<line x1="288.2" y1="596.5" x2="299.2" y2="596.5" stroke="#333" stroke-width="1.2"/>
<text x="254.3" y="579.7" font-size="12.5" text-anchor="start"  fill="#000">+2.100</text>
<line x1="935" y1="407.5" x2="982.9" y2="407.5" stroke="#555" stroke-width="0.9"/>
<line x1="934.5" y1="407.9" x2="934.5" y2="425" stroke="#555" stroke-width="0.9"/>
<polyline points="932,416 935,425 938,416" fill="none" stroke="#555" stroke-width="0.9"/>
<line x1="929.5" y1="424.5" x2="940.5" y2="424.5" stroke="#333" stroke-width="1.2"/>
<text x="934.4" y="405.4" font-size="12.5" text-anchor="start"  fill="#000">+10.870</text>
<line x1="935" y1="468.5" x2="978" y2="468.5" stroke="#555" stroke-width="0.9"/>
<line x1="934.5" y1="468.3" x2="934.5" y2="485.4" stroke="#555" stroke-width="0.9"/>
<polyline points="932,476.4 935,485.4 938,476.4" fill="none" stroke="#555" stroke-width="0.9"/>
<line x1="929.5" y1="485.5" x2="940.5" y2="485.5" stroke="#333" stroke-width="1.2"/>
<text x="934.4" y="465" font-size="12.5" text-anchor="start"  fill="#000">+7.880</text>
<line x1="935" y1="508.5" x2="978" y2="508.5" stroke="#555" stroke-width="0.9"/>
<line x1="934.5" y1="509" x2="934.5" y2="525.7" stroke="#555" stroke-width="0.9"/>
<polyline points="932,516.7 935,525.7 938,516.7" fill="none" stroke="#555" stroke-width="0.9"/>
<line x1="929.5" y1="525.5" x2="940.5" y2="525.5" stroke="#333" stroke-width="1.2"/>
<text x="934.4" y="505" font-size="12.5" text-anchor="start"  fill="#000">+5.880</text>
<line x1="935" y1="559.5" x2="978" y2="559.5" stroke="#555" stroke-width="0.9"/>
<line x1="934.5" y1="559.4" x2="934.5" y2="576" stroke="#555" stroke-width="0.9"/>
<polyline points="932,567 935,576 938,567" fill="none" stroke="#555" stroke-width="0.9"/>
<line x1="929.5" y1="575.5" x2="940.5" y2="575.5" stroke="#333" stroke-width="1.2"/>
<text x="934.4" y="555.7" font-size="12.5" text-anchor="start"  fill="#000">+3.000</text>
<line x1="23.5" y1="12" x2="1200" y2="12" stroke="#333" stroke-width="1.6"/>
<line x1="24" y1="12" x2="24" y2="881" stroke="#222" stroke-width="1.6"/>
<line x1="23.5" y1="881" x2="1200" y2="881" stroke="#222" stroke-width="1.8"/>
<line x1="2.5" y1="623.3" x2="2.5" y2="881" stroke="#444" stroke-width="1"/>
<line x1="0" y1="623.5" x2="23.5" y2="623.5" stroke="#444" stroke-width="1"/>
<line x1="0" y1="699.5" x2="23.5" y2="699.5" stroke="#444" stroke-width="1"/>
<line x1="0" y1="804.5" x2="23.5" y2="804.5" stroke="#444" stroke-width="1"/>
<rect x="0" y="724.9000000000001" width="1.6" height="1.6" fill="#555"/>
<rect x="0" y="730.2" width="1.6" height="1.6" fill="#555"/>
<rect x="0" y="770.0" width="1.6" height="1.6" fill="#555"/>
<rect x="0" y="775.4000000000001" width="1.6" height="1.6" fill="#555"/>
<rect x="0" y="809.9000000000001" width="1.6" height="1.6" fill="#555"/>
<rect x="0" y="814.2" width="1.6" height="1.6" fill="#555"/>
<line x1="660.5" y1="714" x2="1200" y2="714" stroke="#222" stroke-width="1.8"/>
<line x1="857.7" y1="744.5" x2="1200" y2="744.5" stroke="#222" stroke-width="1.4"/>
<line x1="660.5" y1="729.5" x2="857.7" y2="729.5" stroke="#333" stroke-width="1.2"/>
<line x1="660.5" y1="744.5" x2="857.7" y2="744.5" stroke="#333" stroke-width="1.2"/>
<line x1="660.5" y1="759.5" x2="857.7" y2="759.5" stroke="#333" stroke-width="1.2"/>
<line x1="660.5" y1="775" x2="857.7" y2="775" stroke="#222" stroke-width="1.6"/>
<line x1="660.5" y1="790" x2="1200" y2="790" stroke="#222" stroke-width="1.6"/>
<line x1="1069.5" y1="805.5" x2="1200" y2="805.5" stroke="#222" stroke-width="1.4"/>
<line x1="660.5" y1="805.5" x2="857.7" y2="805.5" stroke="#333" stroke-width="1.2"/>
<line x1="660.5" y1="820.5" x2="857.7" y2="820.5" stroke="#333" stroke-width="1.2"/>
<line x1="660.5" y1="836" x2="1200" y2="836" stroke="#222" stroke-width="1.6"/>
<line x1="660.5" y1="850.5" x2="857.7" y2="850.5" stroke="#555" stroke-width="1.2"/>
<line x1="660.5" y1="865.5" x2="857.7" y2="865.5" stroke="#555" stroke-width="1.2"/>
<line x1="660" y1="714.3" x2="660" y2="881" stroke="#222" stroke-width="1.6"/>
<line x1="684.5" y1="714.3" x2="684.5" y2="790.3" stroke="#222" stroke-width="1.4"/>
<line x1="711.5" y1="714.3" x2="711.5" y2="881" stroke="#222" stroke-width="1.4"/>
<line x1="742.5" y1="714.3" x2="742.5" y2="790.3" stroke="#222" stroke-width="1.4"/>
<line x1="781.5" y1="714.3" x2="781.5" y2="881" stroke="#222" stroke-width="1.4"/>
<line x1="827.5" y1="714.3" x2="827.5" y2="881" stroke="#222" stroke-width="1.4"/>
<line x1="858" y1="714.3" x2="858" y2="881" stroke="#222" stroke-width="1.6"/>
<line x1="1070" y1="790.3" x2="1070" y2="881" stroke="#222" stroke-width="1.6"/>
<line x1="1114.5" y1="790.3" x2="1114.5" y2="835.5" stroke="#222" stroke-width="1.4"/>
<line x1="1160.5" y1="790.3" x2="1160.5" y2="835.5" stroke="#222" stroke-width="1.4"/>
<text x="661.6" y="785.7" font-size="10.5" text-anchor="start"  fill="#000">Изм.</text>
<text x="686.5" y="785.7" font-size="10.5" text-anchor="start"  fill="#000">Кол.</text>
<text x="717" y="785.7" font-size="10.5" text-anchor="start"  fill="#000">Лист</text>
<text x="746" y="785.7" font-size="10.5" text-anchor="start"  fill="#000">№ док.</text>
<text x="793.5" y="785.7" font-size="10.5" text-anchor="start"  fill="#000">Подп.</text>
<text x="830.2" y="784.6" font-size="10.5" text-anchor="start"  fill="#000">Дата</text>
<text x="664.6" y="814.4" font-size="10.5" text-anchor="start"  fill="#000">Разраб.</text>
<text x="715.1" y="815.8" font-size="10.5" text-anchor="start"  fill="#000">Домрачева</text>
<text x="829.8" y="815.5" font-size="10.5" text-anchor="start"  fill="#000">05.22</text>
<text x="665.5" y="847.7" font-size="10.5" text-anchor="start"  fill="#000">Н. контр.</text>
<text x="715.9" y="846.3" font-size="10.5" text-anchor="start"  fill="#000">Двоеглазов</text>
<text x="829.8" y="844.5" font-size="10.5" text-anchor="start"  fill="#000">05.22</text>
<text x="665.5" y="862" font-size="10.5" text-anchor="start"  fill="#000">ГИП</text>
<text x="716.7" y="861" font-size="10.5" text-anchor="start"  fill="#000">Коротаев</text>
<text x="829.8" y="860" font-size="10.5" text-anchor="start"  fill="#000">05.22</text>
<text x="964.6" y="814.7" font-size="10.6" text-anchor="middle"  fill="#000">ИП Кузнецов Владимир Юрьевич</text>
<text x="973.1" y="855.6" font-size="10.6" text-anchor="middle"  fill="#000">Фасад Ж - А</text>
<text x="973.1" y="867.2" font-size="10.6" text-anchor="middle"  fill="#000">Фасад А - Ж</text>
<text x="1035.5" y="732.5" font-size="14.6" text-anchor="middle"  fill="#000">08-22П-АР</text>
<text x="1037.6" y="763.3" font-size="11.7" text-anchor="middle"  fill="#000">"Футбольный манеж" расположенный по адресу:</text>
<text x="1039.2" y="776.7" font-size="11.7" text-anchor="middle"  fill="#000">Кировская область, г. Киров, ул. Энтузиастов</text>
<text x="1094.1" y="800.7" font-size="11.2" text-anchor="middle"  fill="#000">Стадия</text>
<text x="1137.3" y="800.7" font-size="11.2" text-anchor="middle"  fill="#000">Лист</text>
<text x="1172" y="800.7" font-size="11.2" text-anchor="start"  fill="#000">Листов</text>
<text x="1093.2" y="825.3" font-size="14" text-anchor="middle"  fill="#000">ЭП</text>
<text x="1138.4" y="825.3" font-size="14" text-anchor="middle"  fill="#000">10</text>
<text x="1189" y="825.3" font-size="14" text-anchor="middle"  fill="#000">17</text>
<text x="1146.4" y="864" font-size="14.6" text-anchor="middle"  fill="#000">ООО "Альянс"</text>
<path d="M789,816 C785,811 784.5,806 788.3,803.8 C792,801.5 795.8,805.4 795.4,810.8 C795.2,815.8 794.2,819.6 791.7,820 C789,820 787.5,817.5 785.8,816.7 C784,816.7 783.7,820 785.8,820.4 C788,820.6 791,818.5 794,818 M792,803.8 L788.8,815.4 M794,818 C798,816 800,813 801.5,810 C803,808 802.5,807.5 801,810 C799,815 795,822 793,829 C792.5,832 794.5,830.5 796,826 C798,821 800,818 803,817 C806,816 807,815 806,820 C804,826 803,829 804,828.5 C806,826 806,821 807,818 M803,818 C806,815 810,809 812.8,805.2 M806,817 C810,815 813,814 814.5,816.5" fill="none" stroke="#111" stroke-width="1.25" stroke-linecap="round"/>
<path d="M782,857 C788,849 794,842 799.4,836 M796.7,838.7 C795,842 793,846 793.5,848 C794.5,850 797,849 800,847 C803,845.5 805,846 802,849.5 C800,851.5 803,851.5 807,849 C811,846.5 818,840 826,834.2 M786,866.4 C784,862 790,856 797,854 C803,852 806,854.5 801,858 C796,862 788,866 786,866.4 M789,869 C792,866 799,860 805,857 C809,855 808,858 804,861 M799.4,866.4 C806,860 815,852 823.3,847 M806,865 C812,859 818,854 824.4,850.3 M802,876.4 L809,865 M796,862.5 C802,864 810,856 816,852 C822,848 826,846 823,849 M785.6,866.4 C790,868 797,866 800,864" fill="none" stroke="#3a3a3a" stroke-width="0.8"/>
</svg></body></html>
